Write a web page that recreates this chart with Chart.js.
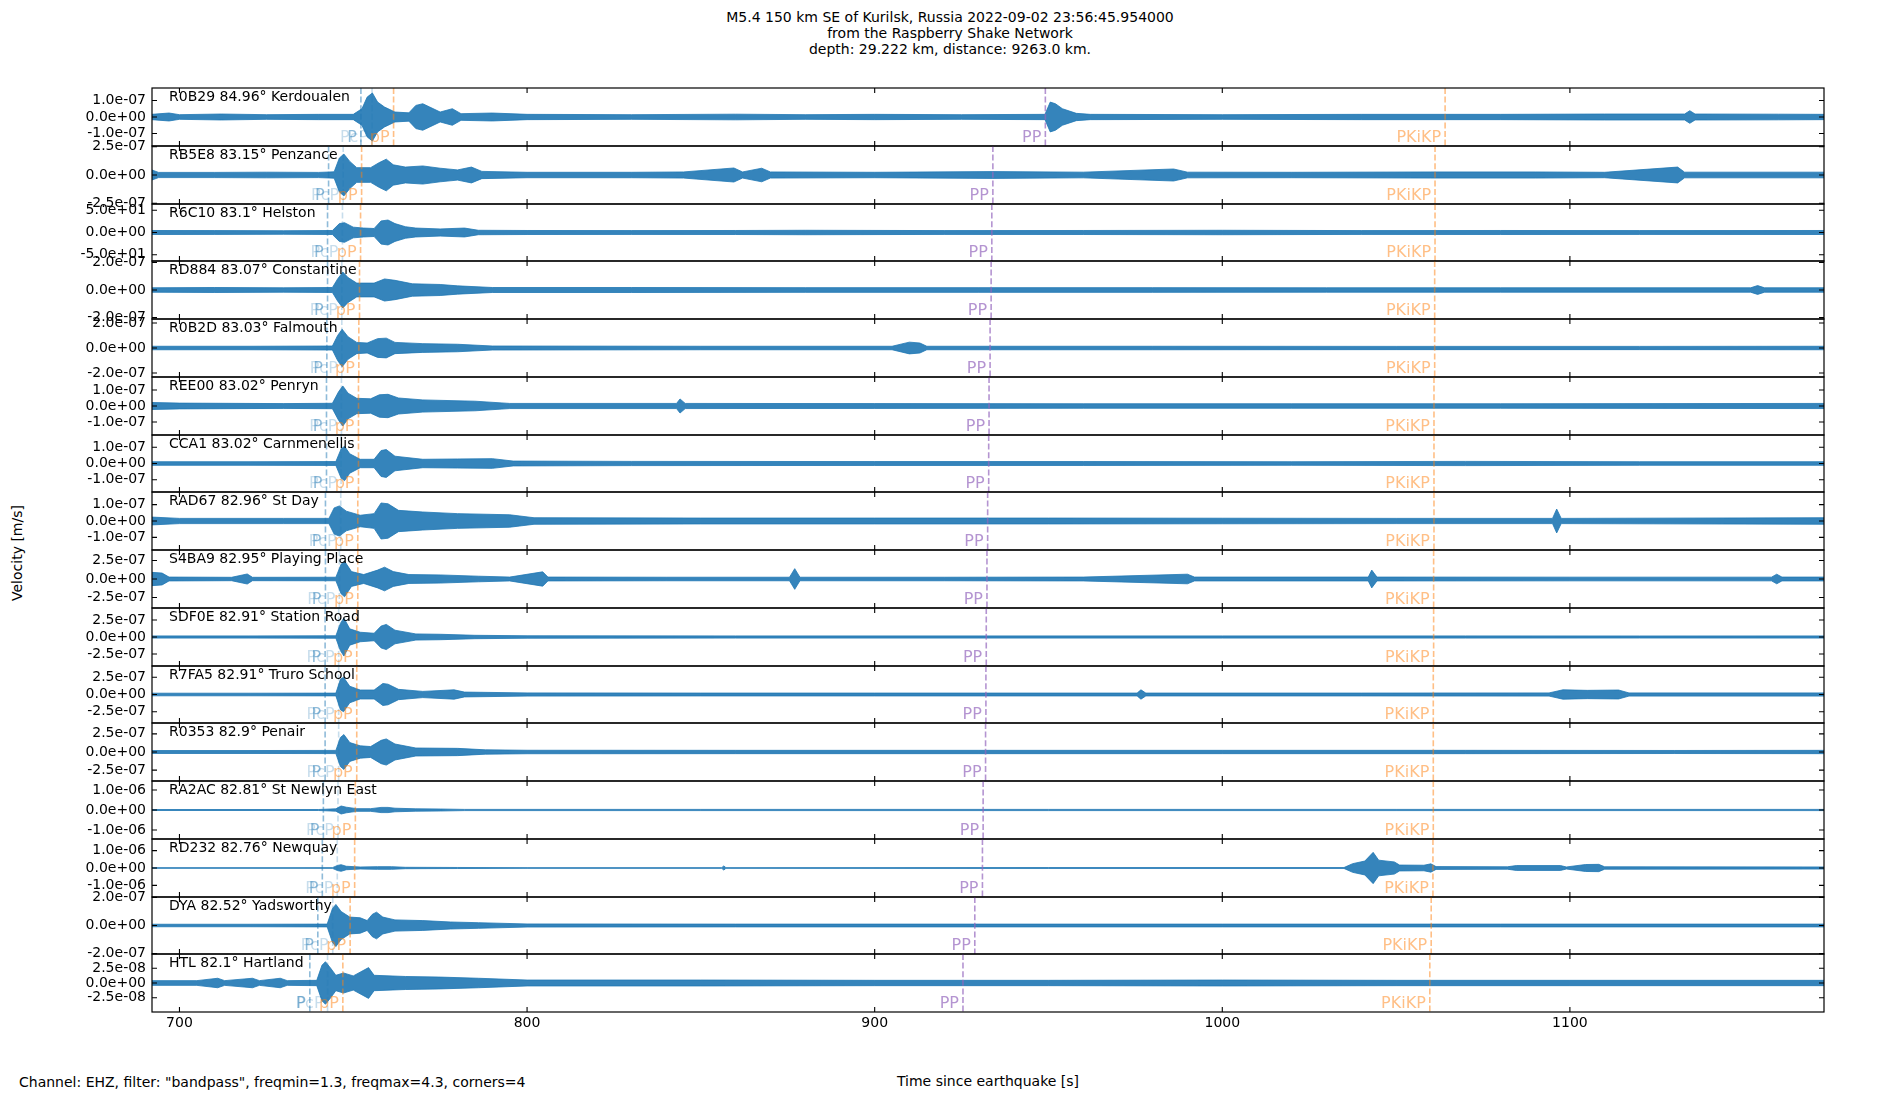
<!DOCTYPE html>
<html>
<head>
<meta charset="utf-8">
<script src="https://cdn.jsdelivr.net/npm/chart.js@4.4.1/dist/chart.umd.min.js"></script>
<style>
  body { margin: 0; background: #fff; width: 1900px; height: 1100px; position: relative; overflow: hidden; font-family: "DejaVu Sans", sans-serif; }
  .panel { position: absolute; left: 0; width: 1826px; }
  .txt { position: absolute; color: #000; font-size: 14px; white-space: nowrap; line-height: 16px; }
</style>
</head>
<body>
<div class="txt" style="left:0;width:1900px;top:9px;text-align:center;">
  M5.4 150 km SE of Kurilsk, Russia 2022-09-02 23:56:45.954000<br>
  from the Raspberry Shake Network<br>
  depth: 29.222 km, distance: 9263.0 km.
</div>
<div class="txt" style="left:-38px;top:545px;width:110px;text-align:center;transform:rotate(-90deg);">Velocity [m/s]</div>
<div class="txt" style="left:19px;top:1074px;">Channel: EHZ, filter: "bandpass", freqmin=1.3, freqmax=4.3, corners=4</div>
<div class="txt" style="left:788px;width:400px;top:1073px;text-align:center;">Time since earthquake [s]</div>
<div id="panels"></div>

<script>
// stations, top to bottom
const stations = ['R0B29', 'RB5E8', 'R6C10', 'RD884', 'R0B2D', 'REE00', 'CCA1', 'RAD67',
                  'S4BA9', 'SDF0E', 'R7FA5', 'R0353', 'RA2AC', 'RD232', 'DYA', 'HTL'];
const distances = [84.96, 83.15, 83.1, 83.07, 83.03, 83.02, 83.02, 82.96,
                   82.95, 82.91, 82.91, 82.9, 82.81, 82.76, 82.52, 82.1];
const places = ['Kerdoualen', 'Penzance', 'Helston', 'Constantine', 'Falmouth', 'Penryn', 'Carnmenellis', 'St Day',
                'Playing Place', 'Station Road', 'Truro School', 'Penair', 'St Newlyn East', 'Newquay', 'Yadsworthy', 'Hartland'];

// y range (+/-) and tick step of each panel
const yLimits = [1.75e-7, 2.56e-7, 64, 2.1e-7, 2.32e-7, 1.81e-7, 1.76e-7, 1.77e-7,
                 3.92e-7, 4.26e-7, 4.14e-7, 3.99e-7, 1.45e-6, 1.67e-6, 2.03e-7, 4.9e-8];
const yTickSteps = [1e-7, 2.5e-7, 50, 2e-7, 2e-7, 1e-7, 1e-7, 1e-7,
                    2.5e-7, 2.5e-7, 2.5e-7, 2.5e-7, 1e-6, 1e-6, 2e-7, 2.5e-8];

const xMin = 692.1;
const xMax = 1173.1;
const xTicks = [700, 800, 900, 1000, 1100];

// phase arrival times [s]
const tP     = [752.2, 742.9, 742.6, 742.6, 742.4, 742.3, 742.3, 742.0, 742.0, 741.9, 741.9, 741.9, 741.4, 741.1, 739.8, 737.5];
const tPcP   = [755.4, 747.1, 746.9, 746.7, 746.7, 746.6, 746.5, 746.4, 746.0, 745.8, 745.8, 745.8, 745.6, 745.4, 744.1, 742.6];
const tpP    = [761.6, 752.4, 752.1, 751.8, 751.6, 751.5, 751.5, 751.3, 751.3, 751.0, 751.0, 751.0, 750.6, 750.4, 749.1, 747.0];
const tPP    = [949.1, 934.0, 933.7, 933.5, 933.2, 932.9, 932.8, 932.5, 932.3, 932.1, 932.0, 931.9, 931.2, 931.0, 928.8, 925.4];
const tPKiKP = [1064.1, 1061.2, 1061.2, 1061.1, 1061.1, 1060.9, 1060.9, 1060.9, 1060.8, 1060.8, 1060.7, 1060.7, 1060.7, 1060.6, 1060.1, 1059.7];

// trace envelopes: [time, half amplitude]
const envR0B29 = [[692,1.6e-8],[697,2.4e-8],[700,1.4e-8],[712,1.8e-8],[725,1.4e-8],[740,1.6e-8],[750,1.6e-8],[752.5,5e-8],[754,1.2e-7],[755.5,1.45e-7],[757,9e-8],[759,6e-8],[762,3e-8],[766,2.5e-8],[768,7e-8],[770,8e-8],[772,6e-8],[775,3e-8],[778.5,5e-8],[781,2e-8],[790,2.4e-8],[800,1.6e-8],[830,1.4e-8],[860,1.7e-8],[880,1.4e-8],[900,1.6e-8],[925,1.4e-8],[949,1.6e-8],[950.5,9e-8],[952,8e-8],[954,5e-8],[958,2.2e-8],[962,1.6e-8],[1000,1.4e-8],[1040,1.6e-8],[1080,1.6e-8],[1110,1.8e-8],[1133,1.8e-8],[1134.5,3.8e-8],[1136,1.8e-8],[1160,1.7e-8],[1173.1,1.6e-8]];
const envRB5E8 = [[692,4.5e-8],[694,2.3e-8],[710,2.3e-8],[725,2.5e-8],[740,2.3e-8],[744.5,2.8e-8],[746,1.5e-7],[747.3,1.85e-7],[749,1.2e-7],[751,6.5e-8],[755,6.5e-8],[757.5,1.1e-7],[759.5,1.4e-7],[761.5,9e-8],[765,7e-8],[770,8e-8],[775,6e-8],[780,4.5e-8],[784,7e-8],[787,3.2e-8],[800,2.4e-8],[830,2.4e-8],[845,2.7e-8],[859.5,6.2e-8],[862,2.7e-8],[867.5,6e-8],[870,2.7e-8],[900,2.4e-8],[934,3e-8],[960,2.5e-8],[986,5.3e-8],[990,2.5e-8],[1020,2.4e-8],[1060,2.7e-8],[1090,2.7e-8],[1110,2.4e-8],[1131,7e-8],[1133,2.5e-8],[1173.1,2.5e-8]];
const envR6C10 = [[692,4.5],[710,4.3],[730,4],[744,4.5],[746,20],[747.5,22],[750,12],[753,10],[756,9],[758,26],[760,28],[762,20],[765,13],[768,10],[775,8],[782,10],[786,5],[800,4.5],[830,4.3],[860,4.5],[880,5],[920,4.3],[960,4.5],[1000,5],[1040,4.3],[1080,4.5],[1120,4.3],[1173.1,4.5]];
const envRD884 = [[692,1.6e-8],[710,1.8e-8],[730,1.6e-8],[744,1.8e-8],[745.5,8e-8],[747,1.3e-7],[748.5,9e-8],[751,5e-8],[756,5e-8],[759,8e-8],[762,7e-8],[767,4.5e-8],[775,4e-8],[780,3e-8],[790,1.8e-8],[830,1.8e-8],[880,1.7e-8],[930,1.7e-8],[980,1.7e-8],[1030,1.6e-8],[1080,1.6e-8],[1152,1.6e-8],[1154,3.2e-8],[1156,1.6e-8],[1173.1,1.6e-8]];
const envR0B2D = [[692,1.4e-8],[720,1.4e-8],[744,1.6e-8],[745.5,1e-7],[746.8,1.5e-7],[748.5,9e-8],[751,4.5e-8],[754,4e-8],[757,7.5e-8],[759.5,7.9e-8],[762,4.5e-8],[770,3.5e-8],[780,3e-8],[790,1.6e-8],[850,1.4e-8],[905,1.4e-8],[910,4.7e-8],[913,4e-8],[915,1.4e-8],[980,1.4e-8],[1050,1.3e-8],[1120,1.3e-8],[1173.1,1.4e-8]];
const envREE00 = [[692,2.2e-8],[700,1.8e-8],[730,1.5e-8],[744,1.7e-8],[745.8,9e-8],[747,1.25e-7],[748.5,8e-8],[751,4.8e-8],[755,4.5e-8],[757.5,7e-8],[760,7.3e-8],[763,5e-8],[770,3.8e-8],[785,3e-8],[795,1.6e-8],[843,1.6e-8],[844,4.4e-8],[845.5,1.6e-8],[900,1.5e-8],[960,1.4e-8],[1020,1.4e-8],[1080,1.4e-8],[1173.1,1.6e-8]];
const envCCA1 = [[692,1.1e-8],[720,1.1e-8],[745,1.2e-8],[746.5,9e-8],[747.5,1.06e-7],[749,6e-8],[752,2.6e-8],[756,2.6e-8],[758,8e-8],[759.5,8.6e-8],[762,4.5e-8],[770,2.6e-8],[780,2.8e-8],[790,3e-8],[796,1.5e-8],[830,1.3e-8],[900,1.2e-8],[960,1.2e-8],[1020,1.1e-8],[1070,1.3e-8],[1120,1.1e-8],[1173.1,1.1e-8]];
const envRAD67 = [[692,2.4e-8],[700,1.6e-8],[730,1.6e-8],[743,1.6e-8],[744.5,8e-8],[746,9.2e-8],[748,6e-8],[752,3.5e-8],[756,4.5e-8],[758,1.1e-7],[760,1.05e-7],[763,6.5e-8],[770,5.5e-8],[780,4.5e-8],[795,3.8e-8],[802,2e-8],[850,1.8e-8],[900,1.8e-8],[950,1.8e-8],[1000,1.7e-8],[1050,1.6e-8],[1095,1.6e-8],[1096.2,7.3e-8],[1097.5,1.6e-8],[1173.1,2e-8]];
const envS4BA9 = [[692,9e-8],[695,8e-8],[697,2.6e-8],[715,2.3e-8],[719.5,6.8e-8],[721,2.3e-8],[745,2.4e-8],[746.5,2e-7],[747.5,2.4e-7],[749.5,1e-7],[753,6e-8],[757,1.2e-7],[759,1.6e-7],[761.5,1e-7],[766,6e-8],[775,5.5e-8],[786,3.8e-8],[795,2.6e-8],[804.5,9.7e-8],[806,2.6e-8],[840,2.4e-8],[875.5,2.4e-8],[877,1.4e-7],[878.5,2.4e-8],[920,2.4e-8],[960,2.6e-8],[990,6.5e-8],[992,2.6e-8],[1042,2.6e-8],[1043,1.2e-7],[1044.5,2.6e-8],[1100,2.5e-8],[1158,2.5e-8],[1159.5,6.5e-8],[1161,2.6e-8],[1173.1,2.6e-8]];
const envSDF0E = [[692,1.6e-8],[720,1.6e-8],[745,1.8e-8],[746.3,2e-7],[747.3,2.8e-7],[749,1.2e-7],[752,7e-8],[756,5.5e-8],[758,1.6e-7],[759.5,1.85e-7],[762,1e-7],[768,4.5e-8],[775,4e-8],[785,2.5e-8],[800,1.8e-8],[860,1.6e-8],[930,1.6e-8],[1000,1.6e-8],[1070,1.6e-8],[1120,1.5e-8],[1173.1,1.6e-8]];
const envR7FA5 = [[692,1.9e-8],[720,1.9e-8],[745,2e-8],[746.3,2.2e-7],[747.2,2.5e-7],[749,1.2e-7],[752,6.5e-8],[756,6.5e-8],[758.5,1.6e-7],[760,1.5e-7],[763,7.5e-8],[770,4.5e-8],[779,6.8e-8],[782,3.5e-8],[800,2.3e-8],[850,2.1e-8],[900,2.1e-8],[975.5,2.1e-8],[976.6,6.8e-8],[978,2.1e-8],[1040,2.1e-8],[1094,2.3e-8],[1098,6.8e-8],[1105,6e-8],[1114,6.5e-8],[1117,2.3e-8],[1173.1,2.3e-8]];
const envR0353 = [[692,2e-8],[720,2e-8],[745,2.2e-8],[746.3,2e-7],[747.3,2.4e-7],[749,1.3e-7],[752,8.5e-8],[755,7.5e-8],[758,1.6e-7],[759.5,1.8e-7],[762,1.1e-7],[768,5.5e-8],[780,5e-8],[788,3e-8],[800,2.4e-8],[860,2.3e-8],[930,2.3e-8],[1000,2.3e-8],[1070,2.3e-8],[1130,2.1e-8],[1173.1,2.3e-8]];
const envRA2AC = [[692,2.5e-8],[740,2.5e-8],[745,6e-8],[746.5,2e-7],[748,1.4e-7],[751,6.7e-8],[755,6.7e-8],[758,1.3e-7],[760,1.3e-7],[762,9e-8],[768,6e-8],[775,5e-8],[782,3e-8],[850,3e-8],[950,3e-8],[1050,3e-8],[1173.1,3e-8]];
const envRD232 = [[692,1.9e-8],[744,2e-8],[745.5,1.5e-7],[746.5,1.9e-7],[748,1e-7],[752,5.8e-8],[757,7.7e-8],[761,7.7e-8],[765,4e-8],[780,3e-8],[800,2e-8],[856,2e-8],[856.6,1.2e-7],[857.2,2e-8],[950,2.5e-8],[1035,2.5e-8],[1037.5,2.5e-7],[1041,4e-7],[1043.4,9e-7],[1045,4.5e-7],[1049.5,3.5e-7],[1051,1.7e-7],[1058,1.6e-7],[1060,2.4e-7],[1061.5,8e-8],[1082,7e-8],[1084.6,1.4e-7],[1097.3,1.4e-7],[1099,6e-8],[1104.5,2e-7],[1108.3,2.1e-7],[1110,7e-8],[1173.1,6e-8]];
const envDYA = [[692,9e-9],[720,9e-9],[742.5,1e-8],[744,1.2e-7],[745,1.5e-7],[746.5,1e-7],[749,6e-8],[752,5.5e-8],[754,3.5e-8],[755.5,8e-8],[756.7,9.5e-8],[758.5,6e-8],[762,4e-8],[770,3.5e-8],[778,2.5e-8],[786,2e-8],[800,1.1e-8],[860,1e-8],[930,1e-8],[1000,1e-8],[1080,1e-8],[1173.1,1e-8]];
const envHTL = [[692,4e-9],[705,4e-9],[711,8e-9],[713,4e-9],[721,8e-9],[723,4e-9],[729,8e-9],[731,4e-9],[739.5,4.5e-9],[741,3e-8],[742,3.6e-8],[743.5,2.5e-8],[745,1.3e-8],[747.2,1.7e-8],[750,1.2e-8],[754.4,2.6e-8],[756,1.3e-8],[765,1.1e-8],[775,1e-8],[786,8e-9],[800,5e-9],[850,5e-9],[900,4.5e-9],[950,4.5e-9],[1000,5e-9],[1050,4.5e-9],[1100,4.5e-9],[1173.1,4.5e-9]];

const envelopes = [envR0B29, envRB5E8, envR6C10, envRD884, envR0B2D, envREE00, envCCA1, envRAD67,
                   envS4BA9, envSDF0E, envR7FA5, envR0353, envRA2AC, envRD232, envDYA, envHTL];

const traceColor = '#1f77b4';
const phases = [
    { name: 'P',     times: tP,     color: 'rgba(31, 119, 180, 0.5)' },
    { name: 'PcP',   times: tPcP,   color: 'rgba(31, 119, 180, 0.25)' },
    { name: 'pP',    times: tpP,    color: 'rgba(255, 127, 14, 0.5)' },
    { name: 'PP',    times: tPP,    color: 'rgba(148, 103, 189, 0.7)' },
    { name: 'PKiKP', times: tPKiKP, color: 'rgba(255, 127, 14, 0.5)' }
];

Chart.defaults.font.family = '"DejaVu Sans", sans-serif';
Chart.defaults.font.size = 14;
Chart.defaults.color = '#000';

const FONT = '14px "DejaVu Sans"';
const PHASE_FONT = '16px "DejaVu Sans"';

// matplotlib style 1.0e-07
function fmtSci(v) {
    const [m, e] = Number(v).toExponential(1).split('e');
    const sign = e[0] === '-' ? '-' : '+';
    return m + 'e' + sign + e.replace(/[+-]/, '').padStart(2, '0');
}

// frame, inward ticks, tick labels, phase markers and station label
const panelDecor = {
    id: 'panelDecor',
    afterDraw(chart) {
        const i = chart.options.plugins.panelDecor.index;
        const isLast = i === stations.length - 1;
        const { ctx, chartArea: a, scales } = chart;
        const xs = scales.x, ys = scales.y;
        const step = yTickSteps[i];
        const yVals = [-step, 0, step];
        ctx.save();

        // phase lines and labels
        ctx.font = PHASE_FONT;
        ctx.textAlign = 'right';
        ctx.textBaseline = 'alphabetic';
        phases.forEach(ph => {
            const px = xs.getPixelForValue(ph.times[i]);
            ctx.strokeStyle = ph.color;
            ctx.lineWidth = 1.6;
            ctx.setLineDash([6, 2.6]);
            ctx.beginPath();
            ctx.moveTo(px, a.top);
            ctx.lineTo(px, a.bottom);
            ctx.stroke();
            ctx.fillStyle = ph.color;
            ctx.fillText(ph.name, px - 4, a.bottom - 4);
        });
        ctx.setLineDash([]);

        // frame
        ctx.strokeStyle = '#000';
        ctx.lineWidth = 1.2;
        ctx.strokeRect(a.left, a.top, a.right - a.left, a.bottom - a.top);

        // inward ticks
        ctx.lineWidth = 1.1;
        ctx.beginPath();
        xTicks.forEach(t => {
            const px = xs.getPixelForValue(t);
            ctx.moveTo(px, a.bottom); ctx.lineTo(px, a.bottom - 5);
            ctx.moveTo(px, a.top); ctx.lineTo(px, a.top + 5);
        });
        yVals.forEach(v => {
            const py = ys.getPixelForValue(v);
            ctx.moveTo(a.left, py); ctx.lineTo(a.left + 5, py);
            ctx.moveTo(a.right, py); ctx.lineTo(a.right - 5, py);
        });
        ctx.stroke();

        // tick labels
        ctx.font = FONT;
        ctx.fillStyle = '#000';
        ctx.textAlign = 'right';
        ctx.textBaseline = 'middle';
        yVals.forEach(v => ctx.fillText(fmtSci(v), a.left - 6, ys.getPixelForValue(v)));
        if (isLast) {
            ctx.textAlign = 'center';
            ctx.textBaseline = 'top';
            xTicks.forEach(t => ctx.fillText(String(t), xs.getPixelForValue(t), a.bottom + 4));
        }

        // station label
        ctx.textAlign = 'left';
        ctx.textBaseline = 'alphabetic';
        ctx.fillText(stations[i] + ' ' + distances[i] + '\u00b0 ' + places[i], a.left + 17, a.top + 13);
        ctx.restore();
    }
};

const holder = document.getElementById('panels');
const nPanels = stations.length;
const panelTop = k => Math.round(88 + k * 57.75);

stations.forEach((name, i) => {
    const isLast = i === nPanels - 1;
    const top = panelTop(i);
    const h = panelTop(i + 1) - top;
    const padBottom = isLast ? 40 : 10;
    const div = document.createElement('div');
    div.className = 'panel';
    div.style.top = (top - 10) + 'px';
    div.style.height = (h + 10 + padBottom) + 'px';
    const canvas = document.createElement('canvas');
    div.appendChild(canvas);
    holder.appendChild(div);

    const env = envelopes[i];

    new Chart(canvas, {
        type: 'line',
        data: {
            datasets: [
                {
                    data: env.map(([t, amp]) => ({ x: t, y: amp })),
                    borderColor: traceColor,
                    backgroundColor: 'rgba(31, 119, 180, 0.9)',
                    borderWidth: 0.8,
                    pointRadius: 0,
                    tension: 0,
                    fill: '+1'
                },
                {
                    data: env.map(([t, amp]) => ({ x: t, y: -amp })),
                    borderColor: traceColor,
                    borderWidth: 0.8,
                    pointRadius: 0,
                    tension: 0,
                    fill: false
                }
            ]
        },
        options: {
            animation: false,
            responsive: true,
            maintainAspectRatio: false,
            events: [],
            layout: { padding: { left: 152, right: 2, top: 10, bottom: padBottom } },
            plugins: {
                legend: { display: false },
                tooltip: { enabled: false },
                panelDecor: { index: i }
            },
            scales: {
                x: { type: 'linear', min: xMin, max: xMax, display: false },
                y: { type: 'linear', min: -yLimits[i], max: yLimits[i], display: false }
            }
        },
        plugins: [panelDecor]
    });
});
</script>
</body>
</html>
